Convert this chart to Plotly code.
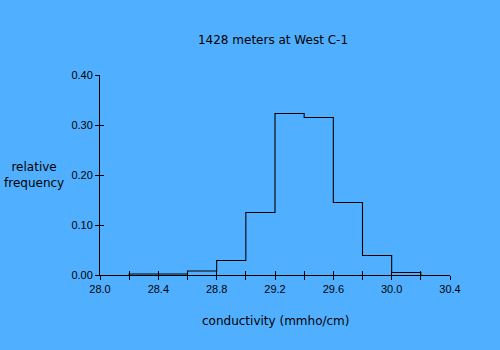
import plotly.graph_objects as go

bin_centers = [28.3, 28.5, 28.7, 28.9, 29.1, 29.3, 29.5, 29.7, 29.9, 30.1]
rel_freq = [0.002, 0.002, 0.008, 0.029, 0.125, 0.323, 0.315, 0.145, 0.039, 0.005]
bin_width = 0.2
x_ticks = [28.0, 28.4, 28.8, 29.2, 29.6, 30.0, 30.4]
y_ticks = [0.0, 0.1, 0.2, 0.3, 0.4]

BG = "#50B0FF"
FONT = "Liberation Sans"
TFONT = "DejaVu Sans"

# step outline built from bins
left_edges = [c - bin_width / 2 for c in bin_centers]
step_x = [left_edges[0]] + left_edges + [bin_centers[-1] + bin_width / 2]
step_y = [0] + rel_freq + [0]

minor_vals = [28.0 + 0.2 * i for i in range(13)]

fig = go.Figure()
fig.add_trace(go.Scatter(
    x=step_x, y=step_y, mode="lines", line=dict(color="black", width=1.1, shape="hv"),
    showlegend=False, hoverinfo="skip", cliponaxis=False,
))
fig.add_trace(go.Scatter(x=[28.0], y=[0], xaxis="x2", yaxis="y2", mode="markers",
                         marker=dict(opacity=0), showlegend=False, hoverinfo="skip"))

axis_common = dict(showgrid=False, zeroline=False, showline=True, linecolor="black",
                   linewidth=1, tickcolor="black", ticklen=4, tickwidth=1,
                   tickfont=dict(family=FONT, size=11, color="black"))

fig.update_layout(
    width=500, height=350,
    margin=dict(l=100, r=50, t=75, b=75),
    paper_bgcolor=BG, plot_bgcolor=BG,
    title=dict(text="1428 meters at West C-1", x=273 / 500, xanchor="center", y=1 - 40 / 350,
               yanchor="middle", font=dict(family=TFONT, size=12, color="black")),
    xaxis=dict(range=[28.0, 30.4], tickmode="array", tickvals=minor_vals,
               ticktext=[(f"{v:.1f}" if f"{v:.1f}" in [f"{t:.1f}" for t in x_ticks] else "") for v in minor_vals],
               ticks="outside", **axis_common),
    yaxis=dict(range=[0, 0.4], tickmode="array", tickvals=y_ticks,
               ticktext=[f"{v:.2f}" for v in y_ticks], ticks="outside", **axis_common),
    xaxis2=dict(range=[28.0, 30.4], overlaying="x", anchor="y", side="bottom",
                tickmode="array", tickvals=minor_vals,
                showticklabels=False, ticks="inside", showgrid=False, zeroline=False,
                showline=False, tickcolor="black", ticklen=4, tickwidth=1),
    yaxis2=dict(range=[0, 0.4], overlaying="y", anchor="x", side="left",
                tickmode="array", tickvals=y_ticks,
                showticklabels=False, ticks="inside", showgrid=False, zeroline=False,
                showline=False, tickcolor="black", ticklen=4, tickwidth=1),
    annotations=[
        dict(text="conductivity (mmho/cm)", xref="paper", yref="paper", x=0.5, y=-46 / 200,
             xanchor="center", yanchor="middle", showarrow=False,
             font=dict(family=TFONT, size=12, color="black")),
        dict(text="relative<br>frequency", xref="paper", yref="paper", x=(34 - 100) / 350,
             y=(275 - 175) / 200, xanchor="center", yanchor="middle", showarrow=False,
             align="center", font=dict(family=TFONT, size=12, color="black")),
    ],
)

fig.write_html("out.html")
